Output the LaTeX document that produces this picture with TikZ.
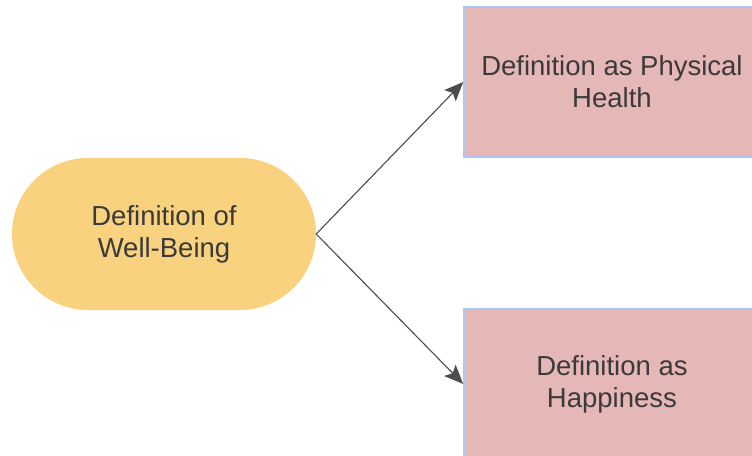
\documentclass[tikz,border=0pt]{standalone}
\usepackage{fontspec}
\setmainfont{Liberation Sans}
\usepackage{xcolor}
\usepackage{tikz}
\usetikzlibrary{arrows.meta, positioning}
\definecolor{wbyellow}{HTML}{F9D27F}
\definecolor{defpink}{HTML}{E5B7B6}
\definecolor{defedge}{HTML}{A9C8EB}
\definecolor{txtgray}{HTML}{3A3A3A}
\definecolor{arrgray}{HTML}{4D4D4D}
\tikzset{
        stadium/.style={rectangle, fill=wbyellow, draw=none, rounded corners=76pt, minimum width=304pt, minimum height=152pt, align=center, text=txtgray},
        defbox/.style={rectangle, fill=defpink, draw=defedge, line width=1.5pt, minimum width=296pt, minimum height=150pt, align=center, text=txtgray},
        arrow/.style={-{Stealth[length=19pt, width=16pt, inset=4pt]}, line width=1.1pt, draw=arrgray, fill=arrgray},
    }
\begin{document}
\begin{tikzpicture}[x=1pt, y=1pt, font=\fontsize{27.5}{32}\selectfont]
        \useasboundingbox (0,0) rectangle (752,-455);

        % Central term
        \node[stadium] (wellbeing) at (164,-234) {Definition of\\Well-Being};

        % Two definitions
        \node[defbox, above right=0pt and 147pt of wellbeing] (physical) {Definition as Physical\\Health};
        \node[defbox, below right=-2pt and 147pt of wellbeing] (happiness) {Definition as\\Happiness};

        \draw[arrow] (wellbeing.east) -- (physical.west);
        \draw[arrow] (wellbeing.east) -- (happiness.west);
    \end{tikzpicture}
\end{document}
